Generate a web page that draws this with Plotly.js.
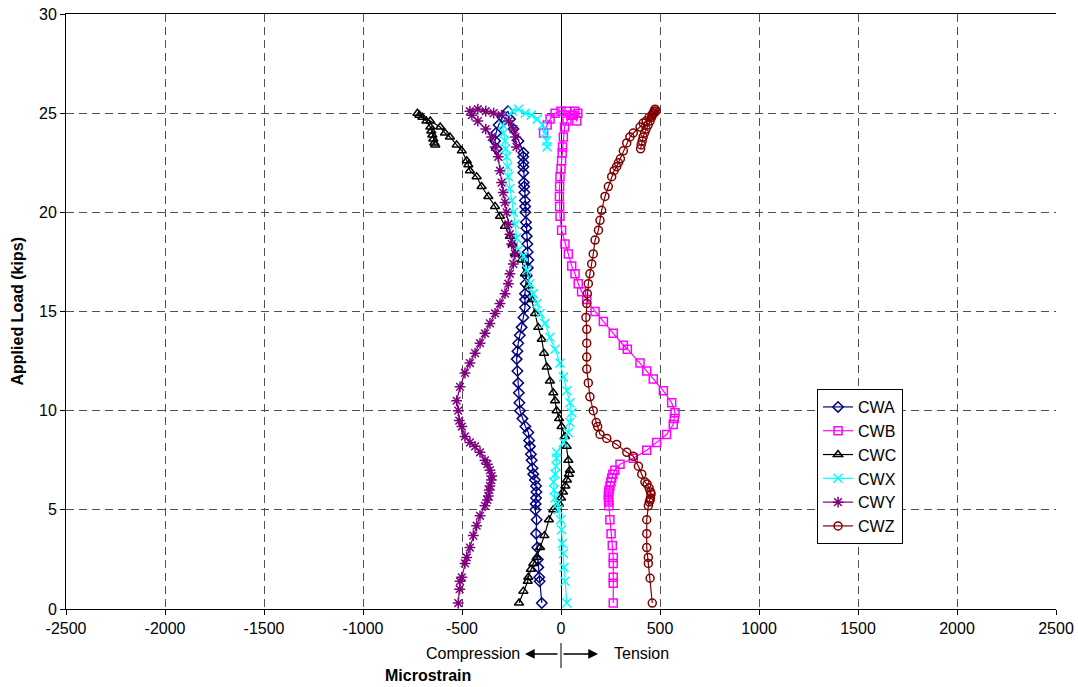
<!DOCTYPE html>
<html>
<head>
<meta charset="utf-8">
<script src="https://cdn.plot.ly/plotly-3.0.1.min.js"></script>
<style>
  html, body { margin: 0; padding: 0; background: #ffffff; }
  #chart { width: 1078px; height: 687px; }
</style>
</head>
<body>
<div id="chart"></div>
<script>
// Strain gauge readings (microstrain) against applied load (kips) for each gauge.
const cwaLoad   = [0.3,1.4,1.6,2.1,2.5,3.1,3.8,4.5,5.0,5.3,5.6,5.9,6.2,6.5,6.8,7.1,7.5,7.8,8.2,8.5,8.9,9.2,9.6,10.0,10.4,10.9,11.4,12.0,12.6,13.0,13.4,13.8,14.2,14.7,15.2,15.6,15.9,16.4,16.8,17.2,17.6,18.0,18.4,18.8,19.2,19.5,20.0,20.3,20.6,21.0,21.3,21.5,22.0,22.3,22.5,22.8,23.0,23.6,24.2,24.7,25.1,24.8,24.4,24.0,23.6,23.2];
const cwaStrain = [-97,-108,-110,-115,-117,-120,-126,-123,-130,-128,-126,-124,-126,-132,-140,-144,-148,-152,-157,-161,-165,-180,-195,-207,-210,-213,-216,-220,-224,-220,-216,-208,-199,-190,-182,-182,-182,-178,-173,-168,-165,-168,-170,-173,-175,-177,-180,-181,-182,-185,-186,-188,-190,-190,-190,-191,-190,-215,-240,-258,-268,-295,-315,-328,-333,-325];

const cwbLoad   = [0.3,1.3,1.6,2.3,2.6,3.2,3.8,4.5,5.2,5.4,5.5,5.7,5.9,6.0,6.2,6.4,6.6,6.8,7.0,7.3,7.6,8.0,8.4,8.8,9.3,9.6,9.9,10.4,11.0,11.6,12.0,12.4,13.1,13.3,13.9,14.5,15.0,15.6,16.0,16.4,16.9,17.3,17.9,18.4,19.1,19.8,20.3,20.8,21.3,21.8,22.2,22.6,23.0,23.3,23.8,24.3,24.6,24.9,25.1,25.0,24.6,24.9,25.1,25.1,25.0,24.7,24.4,24.0];
const cwbStrain = [264,264,264,264,264,259,253,247,242,241,240,239,241,243,247,252,256,262,272,298,365,433,483,533,567,572,576,559,517,466,433,399,335,315,264,214,172,130,104,87,71,54,37,20,3,-5,-7,-8,-7,-5,0,3,6,8,12,18,30,50,70,85,80,60,30,0,-30,-55,-70,-88];

const cwcLoad   = [0.3,0.9,1.4,1.6,2.0,2.3,2.6,3.1,3.7,4.5,5.0,5.3,5.6,5.9,6.2,6.5,6.8,7.0,7.5,8.2,8.7,9.2,9.6,10.0,10.5,10.9,11.5,12.2,12.9,13.6,14.2,14.9,15.6,16.3,16.9,17.6,17.9,18.4,18.8,19.3,19.8,20.3,20.8,21.3,21.8,22.1,22.4,22.6,23.1,23.4,23.8,24.0,24.3,24.6,24.8,25.0,24.9,24.6,24.3,24.1,23.9,23.7,23.5,23.4];
const cwcStrain = [-212,-190,-168,-165,-152,-140,-123,-106,-84,-61,-39,-10,0,10,22,30,40,45,37,29,20,3,-10,-22,-30,-39,-56,-72,-86,-97,-115,-131,-148,-165,-182,-199,-232,-245,-258,-283,-308,-333,-367,-401,-426,-460,-468,-476,-501,-527,-561,-586,-610,-660,-700,-725,-715,-680,-660,-655,-650,-645,-640,-635];

const cwxLoad   = [0.3,1.4,2.1,2.8,3.3,4.0,4.5,5.0,5.3,5.6,6.0,6.4,6.8,7.2,7.6,7.9,8.4,8.9,9.4,9.9,10.4,11.0,11.7,12.4,13.1,13.7,14.4,14.9,15.4,15.9,16.4,17.1,17.8,18.1,18.7,19.4,20.0,20.6,21.2,21.8,22.3,22.8,23.2,23.6,24.0,24.4,24.8,25.1,25.2,25.0,24.9,24.7,24.4,24.0,23.6,23.3];
const cwxStrain = [29,20,15,12,7,3,-2,-14,-20,-30,-35,-38,-30,-25,-22,-22,12,37,45,54,45,29,12,-5,-30,-56,-81,-106,-123,-140,-157,-173,-190,-216,-225,-232,-240,-249,-258,-266,-270,-274,-280,-283,-290,-295,-270,-245,-215,-180,-150,-120,-95,-80,-72,-70];

const cwyLoad   = [0.3,1.0,1.4,1.6,2.3,2.6,3.1,3.7,4.2,4.7,5.2,5.5,5.7,6.0,6.2,6.5,6.7,7.0,7.3,7.5,7.9,8.2,8.4,8.7,9.2,9.5,10.0,10.5,11.2,11.9,12.4,12.9,13.4,13.9,14.4,14.9,15.4,15.9,16.4,16.9,17.4,17.9,18.4,18.9,19.4,20.0,20.5,21.0,21.5,22.1,22.8,23.3,23.8,24.2,24.6,24.9,25.1,25.2,25.1,25.0,24.9,24.6,24.2,23.8,23.3];
const cwyStrain = [-519,-512,-510,-501,-485,-476,-460,-443,-426,-409,-384,-372,-367,-362,-359,-352,-350,-359,-372,-384,-409,-434,-460,-485,-501,-514,-519,-527,-510,-485,-460,-434,-409,-384,-359,-333,-308,-283,-266,-258,-241,-232,-249,-258,-266,-275,-283,-292,-300,-308,-317,-333,-350,-380,-420,-450,-460,-420,-380,-340,-300,-265,-240,-230,-225];

const cwzLoad   = [0.3,1.55,2.3,2.6,3.1,3.8,4.5,5.2,5.4,5.5,5.6,5.8,5.9,6.1,6.3,6.4,6.8,7.2,7.7,7.9,8.3,8.6,8.8,9.2,9.4,10.0,10.7,11.4,12.1,12.7,13.4,14.1,14.7,15.4,15.9,16.4,16.9,17.4,17.9,18.6,19.1,19.6,20.1,20.8,21.3,21.8,22.1,22.3,22.5,22.7,23.1,23.5,23.8,24.0,24.3,24.5,24.6,24.8,24.9,25.0,25.1,25.2,25.1,25.0,24.8,24.6,24.4,24.2,24.0,23.8,23.6,23.4,23.2];
const cwzStrain = [461,450,441,441,433,433,433,441,446,450,452,455,452,445,435,424,408,391,365,332,281,231,197,185,178,163,146,138,130,130,130,130,126,130,133,138,146,155,163,172,189,197,205,222,239,256,268,281,290,300,315,332,348,365,399,415,430,445,460,470,480,475,470,465,458,450,440,430,422,415,410,405,402];

const gaugeNames = ['CWA', 'CWB', 'CWC', 'CWX', 'CWY', 'CWZ'];
const xTickVals = [-2500, -2000, -1500, -1000, -500, 0, 500, 1000, 1500, 2000, 2500];
const yTickVals = [0, 5, 10, 15, 20, 25, 30];

const FONT = '"Liberation Sans", Arial, Helvetica, sans-serif';

function gaugeTrace(name, strain, load, color, symbol, size) {
  return {
    type: 'scatter',
    mode: 'lines+markers',
    name: name,
    x: strain,
    y: load,
    line: { color: color, width: 1.2 },
    marker: {
      symbol: symbol,
      size: size,
      color: color,
      line: { color: color, width: 1.5 }
    },
    hoverinfo: 'skip'
  };
}

const traces = [
  gaugeTrace(gaugeNames[0], cwaStrain, cwaLoad, '#000080', 'diamond-open', 8),
  gaugeTrace(gaugeNames[1], cwbStrain, cwbLoad, '#ff00ff', 'square-open', 8),
  gaugeTrace(gaugeNames[2], cwcStrain, cwcLoad, '#000000', 'triangle-up-open', 8),
  gaugeTrace(gaugeNames[3], cwxStrain, cwxLoad, '#00ffff', 'x-thin-open', 9),
  gaugeTrace(gaugeNames[4], cwyStrain, cwyLoad, '#800080', 'asterisk-open', 9),
  gaugeTrace(gaugeNames[5], cwzStrain, cwzLoad, '#800000', 'circle-open', 8)
];

const gridStyle = { showgrid: true, gridcolor: '#505050', gridwidth: 1, griddash: '8px,5px' };

const layout = {
  width: 1078,
  height: 687,
  margin: { l: 66, r: 22, t: 14, b: 78, pad: 0 },
  paper_bgcolor: '#ffffff',
  plot_bgcolor: '#ffffff',
  font: { family: FONT, size: 16, color: '#000000' },
  hovermode: false,
  showlegend: true,
  xaxis: Object.assign({
    range: [-2500, 2500],
    tickmode: 'array',
    tickvals: xTickVals,
    ticktext: xTickVals.map(String),
    ticks: 'outside',
    ticklen: 5,
    tickcolor: '#000000',
    tickfont: { size: 16 },
    showline: true,
    linecolor: '#000000',
    linewidth: 1,
    mirror: true,
    zeroline: true,
    zerolinecolor: '#000000',
    zerolinewidth: 1,
    fixedrange: true
  }, gridStyle),
  yaxis: Object.assign({
    range: [0, 30],
    tickmode: 'array',
    tickvals: yTickVals,
    ticktext: yTickVals.map(String),
    ticks: 'outside',
    ticklen: 5,
    tickcolor: '#000000',
    tickfont: { size: 16 },
    showline: true,
    linecolor: '#000000',
    linewidth: 1,
    zeroline: false,
    fixedrange: true
  }, gridStyle),
  legend: {
    x: 0.7586,
    y: 0.3697,
    xanchor: 'left',
    yanchor: 'top',
    bgcolor: '#ffffff',
    bordercolor: '#000000',
    borderwidth: 1,
    font: { family: FONT, size: 16, color: '#000000' },
    tracegroupgap: 0
  },
  shapes: [
    // short divider between the compression and tension arrows
    { type: 'line', xref: 'paper', yref: 'paper', x0: 0.5, x1: 0.5, y0: -0.0571, y1: -0.0992,
      line: { color: '#000000', width: 1 } }
  ],
  annotations: [
    { text: '<b>Applied Load (kips)</b>', textangle: -90, xref: 'paper', yref: 'paper',
      x: -0.0485, y: 0.5, xanchor: 'center', yanchor: 'middle', showarrow: false,
      font: { family: FONT, size: 16, color: '#000000' } },
    { text: '<b>Microstrain</b>', xref: 'paper', yref: 'paper',
      x: 0.3202, y: -0.1126, xanchor: 'left', yanchor: 'middle', showarrow: false,
      font: { family: FONT, size: 16, color: '#000000' } },
    { text: 'Compression', xref: 'paper', yref: 'paper',
      x: 0.4606, y: -0.0756, xanchor: 'right', yanchor: 'middle', showarrow: false,
      font: { family: FONT, size: 16, color: '#000000' } },
    { text: 'Tension', xref: 'paper', yref: 'paper',
      x: 0.5515, y: -0.0756, xanchor: 'left', yanchor: 'middle', showarrow: false,
      font: { family: FONT, size: 16, color: '#000000' } },
    { text: '', xref: 'paper', yref: 'paper', x: 0.4636, y: -0.0756,
      axref: 'pixel', ayref: 'pixel', ax: 34, ay: 0, showarrow: true,
      arrowhead: 2, arrowsize: 1.3, arrowwidth: 1.5, arrowcolor: '#000000', standoff: 0, startstandoff: 0 },
    { text: '', xref: 'paper', yref: 'paper', x: 0.5374, y: -0.0756,
      axref: 'pixel', ayref: 'pixel', ax: -36, ay: 0, showarrow: true,
      arrowhead: 2, arrowsize: 1.3, arrowwidth: 1.5, arrowcolor: '#000000', standoff: 0, startstandoff: 0 }
  ]
};

Plotly.newPlot('chart', traces, layout, { displayModeBar: false, staticPlot: true });
</script>
</body>
</html>
